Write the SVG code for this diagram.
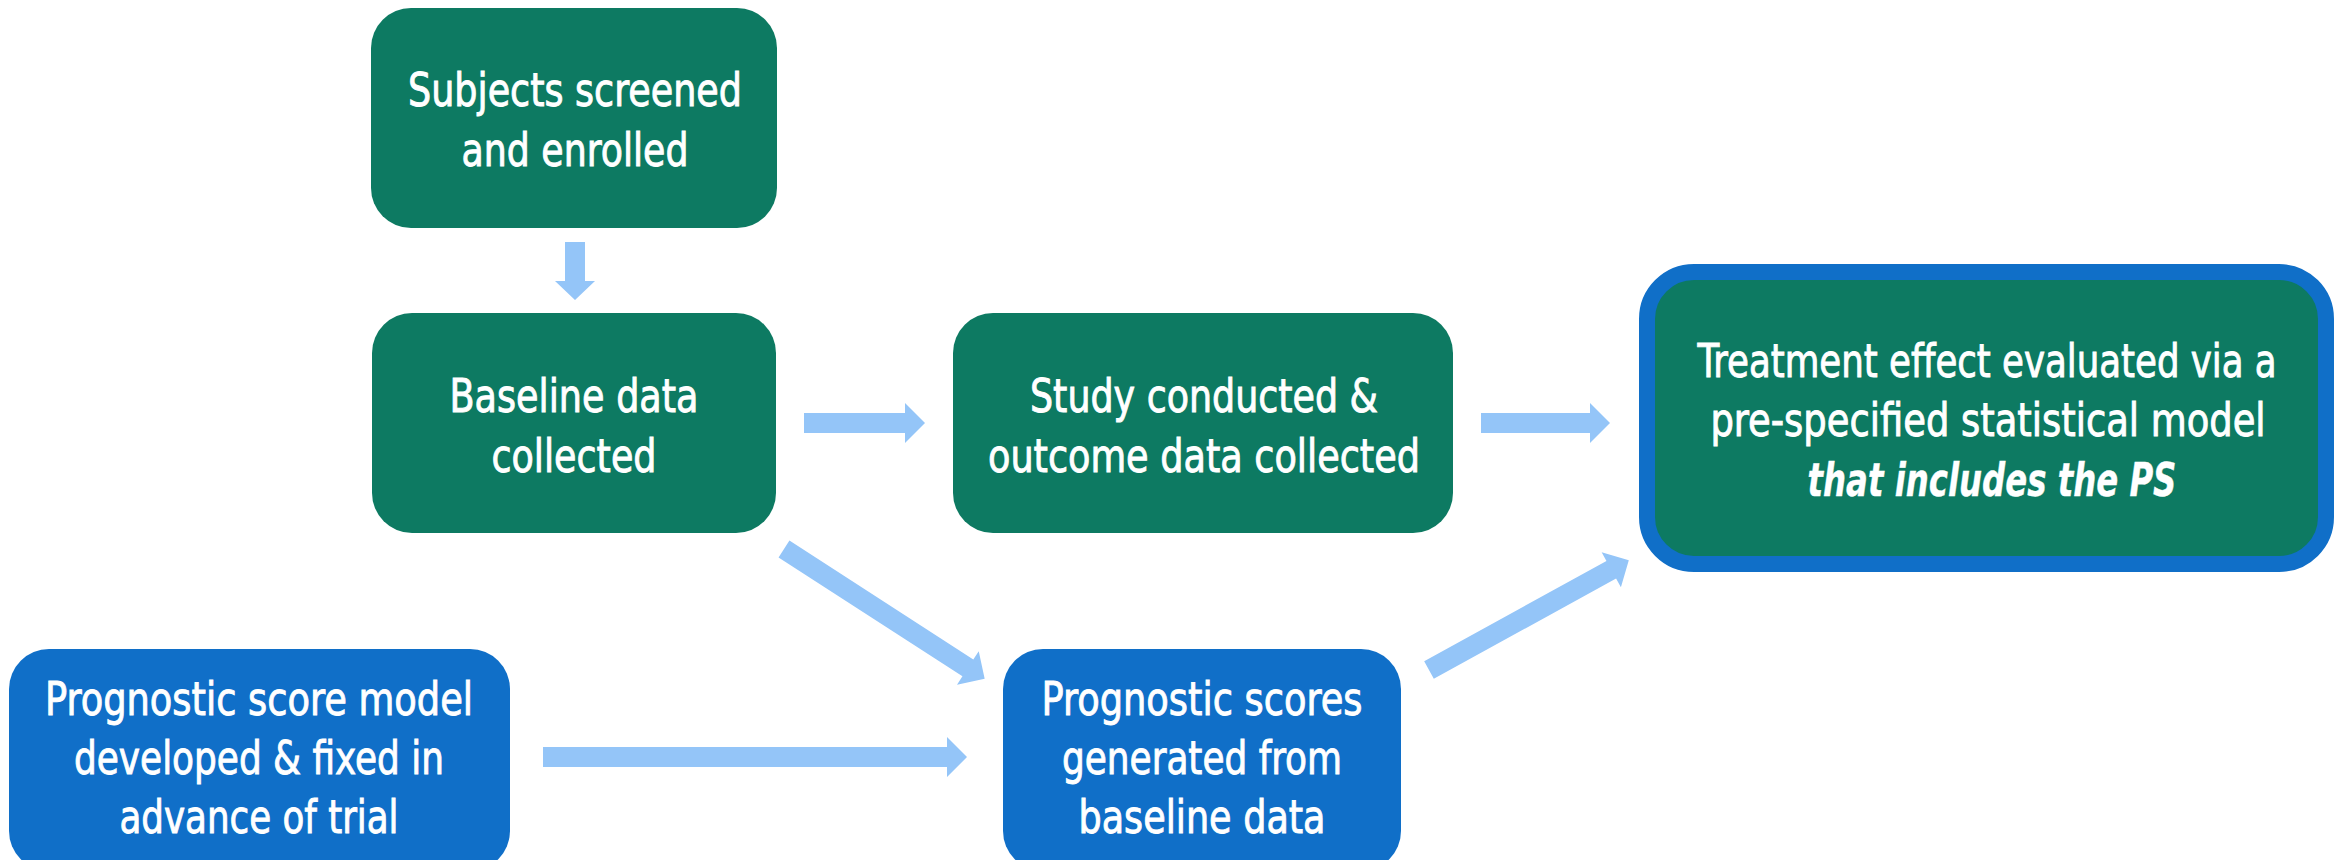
<svg xmlns="http://www.w3.org/2000/svg" width="2338" height="860" viewBox="0 0 2338 860">
<style>
.bg{fill:#ffffff}
.green{fill:#0D7A62}
.blue{fill:#106FC8}
.hl{fill:#0D7A62;stroke:#106FC8;stroke-width:16}
.arrow{fill:#94C5F8}
text{font-family:"DejaVu Sans Condensed","DejaVu Sans",sans-serif;font-stretch:condensed;font-size:47px;fill:#ffffff;stroke:#ffffff;stroke-width:0.9px;text-anchor:middle}
.em{font-weight:bold;font-style:italic;stroke-width:0.4px}
</style>
<rect class="bg" x="0" y="0" width="2338" height="860"/>
<g id="connectors">
<polygon class="arrow" points="565,242 585,242 585,281 595,281 575,300 555,281 565,281"/>
<polygon class="arrow" points="804,413 905,413 905,403 925,423 905,443 905,433 804,433"/>
<polygon class="arrow" points="1481,413 1590,413 1590,403 1610,423 1590,443 1590,433 1481,433"/>
<polygon class="arrow" points="543,747 947,747 947,737 967,757 947,777 947,767 543,767"/>
<polygon class="arrow" transform="translate(784,549) rotate(32.9)" points="0,-10 219,-10 219,-20 239,0 219,20 219,10 0,10"/>
<polygon class="arrow" transform="translate(1429,670) rotate(-28.8)" points="0,-10 208,-10 208,-20 228,0 208,20 208,10 0,10"/>
</g>
<g id="node-subjects">
<rect class="green" x="371" y="8" width="406" height="220" rx="40"/>
<text x="575" y="106" textLength="334" lengthAdjust="spacingAndGlyphs">Subjects screened</text>
<text x="575" y="166" textLength="227" lengthAdjust="spacingAndGlyphs">and enrolled</text>
</g>
<g id="node-baseline">
<rect class="green" x="372" y="313" width="404" height="220" rx="40"/>
<text x="574" y="412" textLength="249" lengthAdjust="spacingAndGlyphs">Baseline data</text>
<text x="574" y="472" textLength="165" lengthAdjust="spacingAndGlyphs">collected</text>
</g>
<g id="node-study">
<rect class="green" x="953" y="313" width="500" height="220" rx="40"/>
<text x="1204" y="412" textLength="348" lengthAdjust="spacingAndGlyphs">Study conducted &amp;</text>
<text x="1204" y="472" textLength="432" lengthAdjust="spacingAndGlyphs">outcome data collected</text>
</g>
<g id="node-treatment">
<rect class="hl" x="1647" y="272" width="679" height="292" rx="47"/>
<text transform="translate(1987,377) scale(0.8,1)" x="0" y="0" textLength="724" lengthAdjust="spacingAndGlyphs">Treatment effect evaluated via a</text>
<text transform="translate(1988,436) scale(0.8,1)" x="0" y="0" textLength="694" lengthAdjust="spacingAndGlyphs">pre-specified statistical model</text>
<text class="em" transform="translate(1992,496) scale(0.8,1)" x="0" y="0" textLength="461" lengthAdjust="spacingAndGlyphs">that includes the PS</text>
</g>
<g id="node-model">
<rect class="blue" x="9" y="649" width="501" height="222" rx="40"/>
<text x="259" y="715" textLength="428" lengthAdjust="spacingAndGlyphs">Prognostic score model</text>
<text x="259" y="774" textLength="370" lengthAdjust="spacingAndGlyphs">developed &amp; fixed in</text>
<text x="259" y="833" textLength="279" lengthAdjust="spacingAndGlyphs">advance of trial</text>
</g>
<g id="node-scores">
<rect class="blue" x="1003" y="649" width="398" height="222" rx="40"/>
<text x="1202" y="715" textLength="321" lengthAdjust="spacingAndGlyphs">Prognostic scores</text>
<text x="1202" y="774" textLength="280" lengthAdjust="spacingAndGlyphs">generated from</text>
<text x="1202" y="833" textLength="247" lengthAdjust="spacingAndGlyphs">baseline data</text>
</g>
</svg>
